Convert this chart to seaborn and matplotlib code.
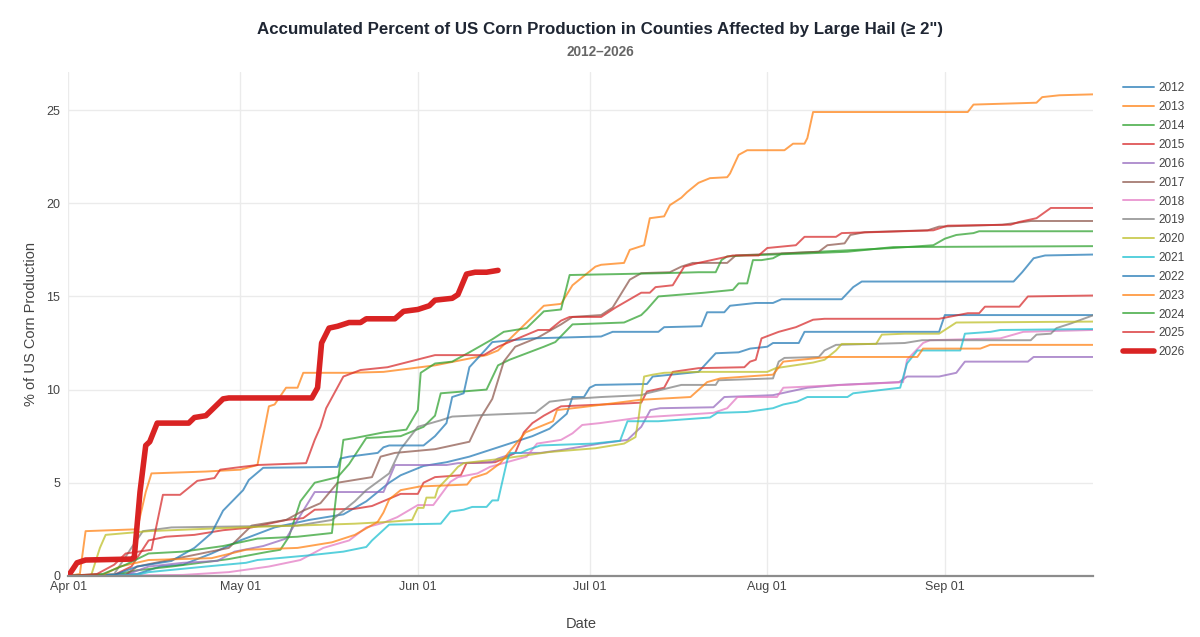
import pandas as pd
import matplotlib.pyplot as plt
import matplotlib.dates as mdates
from matplotlib.lines import Line2D
import seaborn as sns

# days since Apr 01 / accumulated % of US corn production
d2012 = [0, 12, 16, 20, 25, 30, 36, 42, 48, 52, 56, 58, 62, 66, 70, 74, 77, 81, 84, 87, 88, 90, 91, 92, 101, 102, 110, 113, 117, 119, 122, 123, 127.5, 128.5, 152, 153, 179]
v2012 = [0, 0.1, 0.5, 0.6, 1.2, 1.9, 2.6, 3.0, 3.3, 4.0, 5.0, 5.4, 5.9, 6.1, 6.4, 6.8, 7.1, 7.5, 7.9, 8.7, 9.6, 9.6, 10.1, 10.25, 10.3, 10.7, 10.95, 11.95, 12.0, 12.2, 12.3, 12.5, 12.5, 13.1, 13.1, 14.0, 14.0]

d2013 = [0, 2, 3, 12, 13.5, 14.5, 24, 30, 33, 35, 36, 38, 40, 41, 49, 55, 64, 73, 75, 83, 86, 88, 92, 93, 97, 98, 100.5, 101.5, 104, 105, 107, 108, 110, 112, 115, 115.5, 117, 118.5, 125, 126.5, 128.5, 129, 130, 157, 158, 169, 170, 173, 179]
v2013 = [0, 0.1, 2.4, 2.5, 4.5, 5.5, 5.6, 5.7, 5.95, 9.1, 9.2, 10.1, 10.1, 10.9, 10.9, 10.95, 11.3, 11.85, 12.1, 14.5, 14.6, 15.6, 16.6, 16.7, 16.8, 17.5, 17.75, 19.2, 19.3, 19.9, 20.3, 20.6, 21.1, 21.35, 21.4, 21.6, 22.6, 22.85, 22.85, 23.2, 23.2, 23.5, 24.9, 24.9, 25.3, 25.4, 25.7, 25.8, 25.85]

d2014 = [0, 8, 12, 18, 28, 35, 37, 38.5, 40.5, 43, 47, 49, 52, 58, 62, 64, 65, 73, 75, 77, 83, 85, 88, 97, 100, 101, 103, 107, 111, 116, 117, 118.5, 119.5, 121, 123, 124.5, 144, 151, 153, 155, 158, 159, 179]
v2014 = [0, 0.05, 0.3, 0.5, 0.9, 1.3, 1.4, 2.1, 4.0, 5.0, 5.3, 6.0, 7.4, 7.5, 8.0, 8.6, 9.8, 10.0, 11.3, 11.6, 12.3, 12.55, 13.5, 13.6, 14.0, 14.3, 15.0, 15.1, 15.2, 15.35, 15.7, 15.7, 16.95, 16.95, 17.05, 17.3, 17.6, 17.75, 18.1, 18.3, 18.4, 18.5, 18.5]

d2015 = [0, 8, 11, 14, 17, 22, 27, 32, 38, 41, 43, 50, 53, 58, 61, 62, 64, 68.5, 69.5, 74.5, 76, 78, 79.5, 81, 83, 86, 97, 100, 101, 104, 105.5, 110, 118, 119, 120, 121, 124, 127, 130, 132, 152, 157, 159, 160, 166, 167.5, 179]
v2015 = [0, 0.05, 0.5, 1.9, 2.1, 2.2, 2.45, 2.6, 3.0, 3.1, 3.55, 3.6, 3.75, 4.4, 4.4, 5.0, 5.3, 5.4, 6.05, 6.1, 6.3, 6.6, 7.7, 8.2, 8.6, 9.1, 9.25, 9.3, 9.9, 10.1, 10.95, 11.15, 11.2, 11.5, 11.6, 12.75, 13.1, 13.35, 13.75, 13.8, 13.8, 14.1, 14.1, 14.45, 14.45, 15.0, 15.05]

d2016 = [0, 10, 14, 20, 26, 29, 34, 38, 40, 42, 43, 55, 57, 66, 68, 74, 75, 78, 82.4, 85.9, 92.8, 97.6, 100, 101.6, 103.3, 112.6, 114.5, 123, 129, 134.5, 145, 146.4, 152, 155, 156.5, 167.5, 168.5, 179]
v2016 = [0, 0.05, 0.5, 0.7, 0.8, 1.3, 1.6, 2.0, 3.0, 4.0, 4.5, 4.5, 5.95, 5.95, 6.05, 6.1, 6.3, 6.6, 6.6, 6.75, 7.1, 7.3, 8.0, 8.9, 9.0, 9.05, 9.6, 9.7, 10.1, 10.25, 10.4, 10.7, 10.7, 10.9, 11.5, 11.5, 11.75, 11.75]

d2017 = [0, 10, 12, 20, 28, 32, 38, 41, 44, 47, 53, 54.5, 57, 64, 70, 72, 74, 76, 78, 82, 86, 88, 93, 95, 98, 100, 105, 107, 109, 115, 116.5, 131, 132.5, 135.5, 136.5, 139, 150, 152, 163, 168, 179]
v2017 = [0, 0.05, 0.5, 1.0, 1.5, 2.7, 3.0, 3.5, 3.9, 5.0, 5.3, 6.4, 6.6, 6.8, 7.2, 8.5, 9.5, 11.5, 12.3, 12.8, 13.5, 13.9, 14.0, 14.4, 15.9, 16.25, 16.3, 16.6, 16.8, 16.8, 17.2, 17.4, 17.75, 17.85, 18.3, 18.45, 18.55, 18.75, 18.85, 19.05, 19.05]

d2018 = [0, 20, 28, 35, 40.5, 44.5, 49, 52, 55, 57.4, 61, 63.7, 66.7, 68, 71.4, 73.6, 80, 81.8, 86, 88, 89.7, 92.8, 99.8, 112.6, 115, 116.8, 123.7, 124.8, 145.7, 146.4, 149.2, 150.4, 162.7, 165, 166.7, 179]
v2018 = [0, 0.05, 0.2, 0.5, 0.85, 1.5, 1.9, 2.6, 2.85, 3.15, 3.8, 3.8, 5.05, 5.3, 5.5, 5.85, 6.4, 7.1, 7.3, 7.65, 8.1, 8.2, 8.5, 8.75, 9.0, 9.6, 9.6, 10.1, 10.4, 11.6, 12.5, 12.65, 12.75, 12.95, 13.1, 13.2]

d2019 = [0, 8, 11, 13, 18, 40, 46, 50, 52, 56, 58, 61, 65, 67, 73.5, 81.5, 84, 88, 93, 100, 101, 107, 113, 113.5, 123, 124, 125, 131, 132, 134, 146, 149, 168, 169, 171.5, 172.5, 175, 179]
v2019 = [0, 0.1, 1.5, 2.4, 2.6, 2.7, 3.0, 4.0, 4.6, 5.5, 6.8, 8.0, 8.35, 8.55, 8.65, 8.75, 9.35, 9.5, 9.6, 9.7, 9.8, 10.25, 10.25, 10.5, 10.6, 11.5, 11.7, 11.75, 12.1, 12.4, 12.5, 12.65, 12.65, 12.95, 13.0, 13.3, 13.55, 14.0]

d2020 = [0, 4, 5.5, 6.5, 14, 30, 40, 50, 56, 60, 61, 62, 62.5, 64, 64.5, 67, 68, 69, 76, 84, 92, 97, 99, 99.5, 100.5, 102, 104, 110, 122, 123.5, 130, 132, 134, 135, 141, 142, 146, 152, 155, 179]
v2020 = [0, 0.05, 1.5, 2.2, 2.4, 2.6, 2.7, 2.8, 2.9, 3.0, 3.65, 3.65, 4.2, 4.2, 4.7, 5.5, 5.85, 6.05, 6.3, 6.65, 6.85, 7.1, 7.45, 8.4, 10.7, 10.8, 10.9, 10.95, 10.95, 11.15, 11.45, 11.6, 12.1, 12.45, 12.45, 12.95, 13.0, 13.0, 13.6, 13.65]

d2021 = [0, 12, 14, 24, 31, 33, 42, 48, 52, 53, 56, 65, 66.7, 69, 70.5, 73, 74, 75, 76.6, 77.1, 79, 80, 82.4, 91.6, 96.3, 97.6, 103, 112, 113.3, 118.5, 123, 124.8, 127.2, 129, 136, 137, 145.2, 146.4, 148.2, 155.7, 156.5, 161, 162.7, 179]
v2021 = [0, 0.05, 0.2, 0.5, 0.7, 0.85, 1.1, 1.3, 1.55, 1.9, 2.75, 2.8, 3.45, 3.55, 3.7, 3.7, 4.05, 4.05, 6.2, 6.6, 6.6, 6.75, 7.0, 7.1, 7.25, 8.3, 8.3, 8.5, 8.75, 8.8, 9.0, 9.2, 9.35, 9.6, 9.6, 9.8, 10.1, 11.4, 12.1, 12.1, 13.0, 13.1, 13.2, 13.25]

d2022 = [0, 8, 12, 18, 22, 25, 27, 30.5, 31.5, 34, 47, 47.5, 49, 54, 55, 56, 62, 64, 66, 67, 69, 70, 73, 74, 81, 93, 95, 103, 104, 110.5, 111.5, 114.5, 115.5, 120, 123, 124.5, 135, 137, 138.5, 165, 166.5, 168.5, 170.5, 179]
v2022 = [0, 0.05, 0.5, 0.8, 1.5, 2.3, 3.5, 4.6, 5.15, 5.8, 5.85, 6.3, 6.4, 6.6, 6.9, 7.0, 7.0, 7.5, 8.2, 9.6, 9.8, 11.2, 12.2, 12.55, 12.75, 12.85, 13.1, 13.1, 13.35, 13.4, 14.15, 14.15, 14.5, 14.65, 14.65, 14.85, 14.85, 15.5, 15.8, 15.8, 16.3, 17.05, 17.2, 17.25]

d2023 = [0, 6, 9, 14, 25, 31, 40, 46, 50, 54, 55, 56, 58, 61.4, 69.6, 70.5, 73, 75.4, 76.8, 79.8, 81, 84.6, 85.3, 89.5, 96, 99.8, 108.6, 111.5, 113.8, 123, 124.8, 132.5, 148.2, 149.2, 159.2, 160.9, 179]
v2023 = [0, 0.05, 0.5, 0.85, 0.95, 1.4, 1.5, 1.8, 2.2, 2.9, 3.4, 4.1, 4.6, 4.8, 4.9, 5.25, 5.5, 6.05, 6.6, 7.7, 7.85, 8.3, 8.9, 9.05, 9.3, 9.45, 9.6, 10.4, 10.6, 10.8, 11.5, 11.75, 11.75, 12.2, 12.2, 12.4, 12.4]

d2024 = [0, 6, 10, 14, 20, 27, 33, 40, 46, 47, 48, 50, 55, 59, 61, 61.5, 64, 67, 70, 74, 76, 80, 83, 86, 87.5, 96, 104, 110, 113, 114, 115, 118, 128, 136, 144, 179]
v2024 = [0, 0.1, 0.6, 1.2, 1.3, 1.6, 2.0, 2.1, 2.3, 5.0, 7.3, 7.4, 7.7, 7.85, 8.9, 10.9, 11.4, 11.5, 12.0, 12.7, 13.1, 13.3, 14.2, 14.3, 16.15, 16.2, 16.25, 16.3, 16.3, 16.95, 17.15, 17.2, 17.3, 17.4, 17.65, 17.7]

d2025 = [0, 5, 8, 10, 14.5, 16.5, 19.5, 20.5, 22.5, 25.5, 26.5, 29, 33, 41.5, 43, 44, 45, 48, 51, 55.7, 64, 72.5, 75, 82, 84, 86, 87.5, 93, 95.5, 100, 101.5, 102.5, 105.5, 107.5, 110, 116, 120.5, 122, 127, 128.5, 134, 135, 151, 153.5, 164.5, 166, 169, 171.5, 179]
v2025 = [0, 0.1, 0.6, 1.2, 1.4, 4.35, 4.35, 4.6, 5.1, 5.25, 5.7, 5.8, 5.95, 6.05, 7.3, 8.0, 9.0, 10.7, 11.05, 11.2, 11.85, 11.85, 12.3, 13.2, 13.2, 13.7, 13.9, 13.9, 14.4, 15.2, 15.2, 15.5, 15.6, 16.6, 16.8, 17.2, 17.2, 17.6, 17.75, 18.2, 18.2, 18.4, 18.55, 18.8, 18.85, 19.0, 19.2, 19.75, 19.75]

d2026 = [0, 1.5, 3, 11, 11.5, 12.5, 13.5, 14.2, 15.5, 21, 22, 24, 25, 27, 28, 42.5, 43.5, 44.2, 45.5, 47, 49, 51, 52, 57, 58.5, 61, 63, 64, 67, 68, 69.5, 71, 73, 75]
v2026 = [0, 0.7, 0.85, 0.9, 1.0, 4.5, 7.0, 7.2, 8.2, 8.2, 8.5, 8.6, 8.9, 9.5, 9.55, 9.55, 10.1, 12.5, 13.3, 13.4, 13.6, 13.6, 13.8, 13.8, 14.2, 14.3, 14.5, 14.8, 14.9, 15.1, 16.2, 16.3, 16.3, 16.4]

years = list(range(2012, 2027))
days = [d2012, d2013, d2014, d2015, d2016, d2017, d2018, d2019, d2020, d2021,
        d2022, d2023, d2024, d2025, d2026]
vals = [v2012, v2013, v2014, v2015, v2016, v2017, v2018, v2019, v2020, v2021,
        v2022, v2023, v2024, v2025, v2026]

start = pd.Timestamp('2026-04-01')
rows = []
for yr, dd, vv in zip(years, days, vals):
    for d, v in zip(dd, vv):
        rows.append({'year': str(yr), 'date': start + pd.Timedelta(days=d), 'pct': v})
df = pd.DataFrame(rows)

tab10 = sns.color_palette('tab10', 10)
palette = {str(y): tab10[i % 10] for i, y in enumerate(years[:-1])}
current_color = '#d92323'

sns.set_theme(style='whitegrid')
plt.rcParams['font.family'] = ['Liberation Sans', 'DejaVu Sans']

fig, ax = plt.subplots(figsize=(12, 6.37), dpi=100)
fig.subplots_adjust(left=0.057, right=0.911, bottom=0.096, top=0.887)

hist = df[df['year'] != '2026']
sns.lineplot(data=hist, x='date', y='pct', hue='year', palette=palette,
             linewidth=1.4, alpha=0.72, legend=False, ax=ax, estimator=None, sort=False)
sns.lineplot(data=df[df['year'] == '2026'], x='date', y='pct', color=current_color,
             linewidth=4, legend=False, ax=ax, estimator=None, sort=False)

ax.set_xlim(start, start + pd.Timedelta(days=178.9))
ax.set_ylim(0, 27.05)
ax.set_yticks([0, 5, 10, 15, 20, 25])
ax.xaxis.set_major_locator(mdates.MonthLocator())
ax.xaxis.set_major_formatter(mdates.DateFormatter('%b %d'))
ax.grid(color='#ebebeb', linewidth=1)
ax.set_facecolor('white')
for s in ['left', 'right', 'top']:
    ax.spines[s].set_visible(False)
ax.spines['bottom'].set_color('#8c8c8c')
ax.spines['bottom'].set_linewidth(1.6)
ax.tick_params(axis='both', length=0, labelsize=9, colors='#444444', pad=4)
ax.tick_params(axis='y', pad=6)

ax.set_xlabel('Date', fontsize=10.5, color='#444444', labelpad=17)
ax.set_ylabel('% of US Corn Production', fontsize=10.5, color='#444444', labelpad=6)

fig.text(0.5, 0.953, 'Accumulated Percent of US Corn Production in Counties Affected by Large Hail (≥ 2")',
         ha='center', va='center', fontsize=12.2, fontweight='bold', color='#1f2633')
fig.text(0.5, 0.918, '2012–2026', ha='center', va='center', fontsize=9.8,
         fontweight='bold', color='#666666')

handles = [Line2D([0], [0], color=palette[str(y)], lw=1.4, alpha=0.72) for y in years[:-1]]
handles.append(Line2D([0], [0], color=current_color, lw=4))
fig.legend(handles, [str(y) for y in years], loc='upper left', bbox_to_anchor=(0.932, 0.878),
           frameon=False, fontsize=8.5, handlelength=2.6, handletextpad=0.4, labelspacing=0.58,
           labelcolor='#444444', borderaxespad=0)

fig.savefig('out.png', dpi=100, facecolor='white')
